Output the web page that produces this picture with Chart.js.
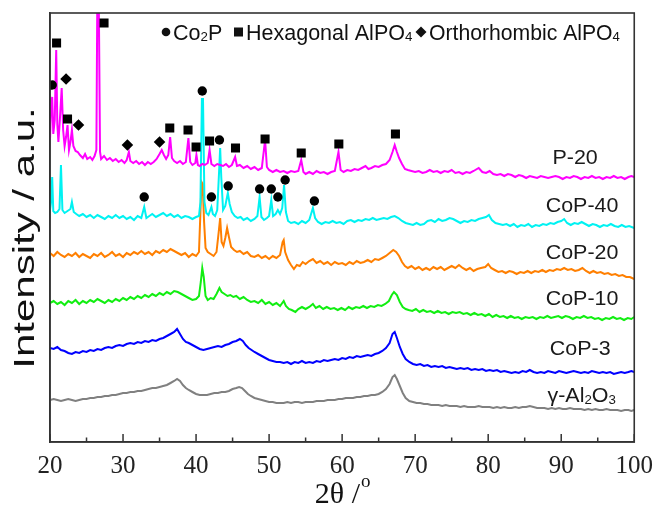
<!DOCTYPE html>
<html>
<head>
<meta charset="utf-8">
<script src="https://cdn.jsdelivr.net/npm/chart.js@4.4.1/dist/chart.umd.min.js"></script>
<style>
html,body{margin:0;padding:0;background:#fff;}
#wrap{width:654px;height:510px;}
</style>
</head>
<body>
<div id="wrap"><canvas id="c" width="654" height="510"></canvas></div>
<script>
// ---- Data (2θ in degrees, intensity in arbitrary offset units) ----
const xMajorTicks = [20,30,40,50,60,70,80,90,100];
const xMinorTicks = [25,35,45,55,65,75,85,95];

const seriesNames = ["P-20","CoP-40","CoP-20","CoP-10","CoP-3","γ-Al2O3"];
const seriesColors = ["#FF00FF","#00F2F2","#FF7F00","#11EE11","#0000FF","#808080"];

const p20 = [[20.0,302],[20.15,337],[20.3,345],[20.45,308],[20.65,322],[20.85,392],[21.0,318],[21.15,300],[21.35,322],[21.6,354],[21.8,312],[22.0,296],[22.2,305],[22.4,317],[22.6,292],[22.8,300],[23.0,312],[23.2,296],[23.5,291],[23.8,290],[24.1,287],[24.5,284],[24.8,288],[25.1,283],[25.5,285],[25.8,282],[26.1,286],[26.35,292],[26.5,470],[26.65,470],[26.85,290],[27.0,283],[27.4,286],[27.8,282],[28.2,284],[28.6,281],[29.0,283],[29.4,280],[29.8,282],[30.2,279],[30.5,282],[30.8,290],[31.0,281],[31.4,279],[31.8,281],[32.2,278],[32.6,280],[33.0,277],[33.4,280],[33.8,278],[34.2,280],[34.6,283],[35.0,288],[35.3,292],[35.6,287],[35.9,283],[36.2,287],[36.45,305],[36.7,284],[37.0,281],[37.4,279],[37.8,281],[38.2,278],[38.6,280],[38.95,304],[39.2,280],[39.5,277],[39.9,279],[40.05,287],[40.25,277],[40.5,276],[40.85,278],[41.2,277],[41.6,279],[41.85,292],[42.1,278],[42.5,276],[42.9,278],[43.3,277],[43.7,276],[44.1,278],[44.5,275],[44.9,277],[45.35,285],[45.6,276],[46.0,277],[46.5,274],[47.0,276],[47.5,273],[48.0,275],[48.5,272],[49.0,274],[49.45,302],[49.7,275],[50.0,272],[50.5,270],[51.0,272],[51.5,270],[52.0,271],[52.5,269],[53.0,271],[53.5,270],[54.0,271],[54.4,282],[54.7,270],[55.0,268],[55.5,270],[56.0,268],[56.5,271],[57.0,269],[57.5,270],[58.0,268],[58.5,270],[59.0,271],[59.5,290],[59.8,272],[60.2,270],[60.7,272],[61.2,271],[61.7,273],[62.2,272],[62.7,274],[63.2,276],[63.6,273],[64.0,274],[64.5,276],[65.0,275],[65.5,277],[66.0,278],[66.5,282],[66.9,290],[67.2,297],[67.5,290],[67.8,284],[68.2,278],[68.6,273],[69.0,272],[69.5,271],[70.0,270],[70.5,271],[71.0,269],[71.5,270],[72.0,272],[72.5,270],[73.0,271],[73.5,269],[74.0,271],[74.5,270],[75.0,272],[75.5,269],[76.0,270],[76.5,268],[77.0,270],[77.5,269],[78.0,271],[78.7,274],[79.2,270],[79.7,269],[80.2,271],[80.7,268],[81.2,267],[81.7,268],[82.2,266],[82.7,268],[83.2,267],[83.7,265],[84.2,267],[84.7,266],[85.2,264],[85.7,266],[86.2,265],[86.7,264],[87.2,266],[87.7,265],[88.2,264],[88.7,265],[89.2,266],[89.7,265],[90.2,263],[90.7,265],[91.2,264],[91.7,266],[92.2,265],[92.7,263],[93.2,265],[93.7,264],[94.2,266],[94.7,264],[95.2,265],[95.7,263],[96.2,265],[96.7,264],[97.2,266],[97.7,264],[98.2,265],[98.7,263],[99.2,265],[99.6,266],[100,265]];

const cop40 = [[20.0,232],[20.15,240],[20.3,265],[20.45,231],[20.7,229],[21.0,230],[21.3,233],[21.5,277],[21.7,232],[22.0,229],[22.4,231],[22.8,233],[23.0,240],[23.25,230],[23.6,228],[24.0,226],[24.5,228],[25.0,225],[25.5,227],[26.0,224],[26.5,227],[27.0,225],[27.5,223],[28.0,226],[28.5,224],[29.0,227],[29.5,224],[30.0,226],[30.5,223],[31.0,225],[31.5,222],[32.0,226],[32.5,224],[32.9,235],[33.2,224],[33.6,226],[34.0,228],[34.5,225],[35.0,227],[35.5,229],[36.0,226],[36.5,228],[37.0,225],[37.5,227],[38.0,224],[38.5,226],[39.0,225],[39.5,223],[40.0,225],[40.4,226],[40.6,240],[40.8,343],[40.95,343],[41.15,240],[41.4,229],[41.7,227],[41.95,232],[42.1,235],[42.3,228],[42.6,226],[42.9,232],[43.15,270],[43.3,294],[43.45,265],[43.7,232],[44.0,236],[44.35,249],[44.6,238],[44.9,230],[45.3,226],[45.7,224],[46.1,225],[46.5,222],[47.0,224],[47.5,221],[48.0,223],[48.4,226],[48.7,245],[48.95,225],[49.3,222],[49.7,224],[50.0,226],[50.3,242],[50.55,226],[50.9,228],[51.2,232],[51.5,228],[51.8,234],[52.05,257],[52.3,230],[52.6,221],[53.0,219],[53.5,220],[54.0,218],[54.5,221],[55.0,219],[55.5,222],[56.0,234],[56.3,224],[56.7,220],[57.2,218],[57.7,220],[58.2,219],[58.7,221],[59.2,219],[59.7,220],[60.2,218],[60.7,221],[61.2,222],[61.7,220],[62.2,222],[62.7,221],[63.2,223],[63.7,222],[64.2,224],[64.7,222],[65.2,223],[65.7,224],[66.2,223],[66.7,225],[67.2,226],[67.7,224],[68.2,221],[68.7,219],[69.2,218],[69.7,217],[70.2,219],[70.7,217],[71.2,218],[71.7,221],[72.2,222],[72.7,220],[73.2,223],[73.7,221],[74.2,222],[74.7,224],[75.2,223],[75.7,221],[76.2,219],[76.7,221],[77.2,220],[77.7,222],[78.2,221],[78.7,223],[79.2,224],[79.7,225],[80.1,227],[80.5,222],[81.0,219],[81.5,218],[82.0,217],[82.5,218],[83.0,216],[83.5,218],[84.0,215],[84.5,217],[85.0,216],[85.5,218],[86.0,215],[86.5,217],[87.0,216],[87.5,218],[88.0,217],[88.5,219],[89.0,218],[89.5,220],[90.0,221],[90.4,223],[90.8,219],[91.3,217],[91.8,219],[92.3,218],[92.8,220],[93.3,218],[93.8,216],[94.3,218],[94.8,217],[95.3,215],[95.8,217],[96.3,216],[96.8,218],[97.3,216],[97.8,215],[98.3,217],[98.8,215],[99.3,216],[100,214]];

const cop20 = [[20.0,189],[20.5,186],[21.0,190],[21.5,187],[22.0,185],[22.5,188],[23.0,186],[23.5,189],[24.0,185],[24.5,188],[25.0,186],[25.5,184],[26.0,188],[26.5,186],[27.0,189],[27.5,185],[28.0,187],[28.5,190],[29.0,186],[29.5,188],[30.0,185],[30.5,189],[31.0,187],[31.5,190],[32.0,188],[32.5,191],[33.0,188],[33.5,190],[34.0,187],[34.5,191],[35.0,189],[35.5,192],[36.0,190],[36.5,193],[37.0,191],[37.5,189],[38.0,187],[38.5,189],[39.0,185],[39.5,188],[40.0,186],[40.4,190],[40.6,230],[40.75,260],[40.9,258],[41.1,220],[41.3,194],[41.6,190],[42.0,188],[42.4,186],[42.8,190],[43.1,210],[43.3,224],[43.5,200],[43.75,196],[44.0,204],[44.25,214],[44.5,205],[44.8,195],[45.2,192],[45.6,190],[46.0,191],[46.5,188],[47.0,190],[47.5,186],[48.0,185],[48.5,187],[49.0,184],[49.5,186],[50.0,183],[50.5,186],[51.0,184],[51.5,187],[51.85,200],[52.0,202],[52.2,190],[52.6,182],[53.0,177],[53.4,173],[53.8,177],[54.2,176],[54.6,180],[55.0,178],[55.5,181],[56.0,183],[56.5,179],[57.0,181],[57.5,178],[58.0,180],[58.5,177],[59.0,180],[59.5,178],[60.0,179],[60.5,177],[61.0,180],[61.5,178],[62.0,181],[62.5,179],[63.0,180],[63.5,182],[64.0,180],[64.5,183],[65.0,182],[65.5,184],[66.0,186],[66.5,189],[67.0,192],[67.4,190],[67.8,186],[68.2,180],[68.6,176],[69.0,174],[69.5,176],[70.0,173],[70.5,175],[71.0,172],[71.5,174],[72.0,172],[72.5,175],[73.0,173],[73.5,175],[74.0,172],[74.5,174],[75.0,176],[75.5,174],[76.0,177],[76.5,174],[77.0,172],[77.5,174],[78.0,171],[78.5,173],[79.0,174],[79.6,175],[80.0,178],[80.4,174],[80.9,172],[81.4,170],[81.9,171],[82.4,169],[82.9,171],[83.4,170],[83.9,168],[84.4,170],[84.9,169],[85.4,171],[85.9,169],[86.4,171],[86.9,170],[87.4,172],[87.9,170],[88.4,172],[88.9,171],[89.4,173],[89.9,172],[90.4,174],[90.9,172],[91.4,173],[91.9,171],[92.4,172],[92.9,174],[93.4,171],[93.9,169],[94.4,171],[94.9,169],[95.4,170],[95.9,168],[96.4,169],[96.9,167],[97.4,168],[97.9,166],[98.4,167],[98.9,165],[99.4,165],[100,163]];

const cop10 = [[20.0,139],[20.5,141],[21.0,138],[21.5,140],[22.0,137],[22.5,141],[23.0,139],[23.5,142],[24.0,138],[24.5,141],[25.0,139],[25.5,142],[26.0,140],[26.5,143],[27.0,141],[27.5,139],[28.0,142],[28.5,140],[29.0,143],[29.5,141],[30.0,144],[30.5,142],[31.0,145],[31.5,143],[32.0,146],[32.5,144],[33.0,147],[33.5,145],[34.0,148],[34.5,146],[35.0,149],[35.5,147],[36.0,150],[36.5,148],[37.0,151],[37.5,150],[38.0,148],[38.5,146],[39.0,144],[39.5,142],[40.0,143],[40.4,146],[40.65,160],[40.85,174],[41.05,165],[41.3,146],[41.6,142],[42.0,144],[42.4,143],[42.8,148],[43.2,154],[43.5,150],[43.9,148],[44.3,146],[44.7,147],[45.1,145],[45.5,146],[46.0,143],[46.5,145],[47.0,142],[47.5,140],[48.0,141],[48.5,139],[49.0,142],[49.5,138],[50.0,140],[50.5,137],[51.0,139],[51.5,136],[52.0,141],[52.3,136],[52.7,133],[53.1,132],[53.6,130],[54.0,133],[54.5,135],[55.0,133],[55.5,135],[56.0,138],[56.4,134],[56.9,136],[57.4,133],[57.9,135],[58.4,133],[58.9,134],[59.4,132],[59.9,134],[60.4,132],[60.9,135],[61.4,133],[61.9,135],[62.4,134],[62.9,136],[63.4,134],[63.9,136],[64.4,135],[64.9,137],[65.4,136],[65.9,138],[66.4,141],[66.8,147],[67.1,150],[67.5,147],[67.9,140],[68.3,135],[68.7,133],[69.1,132],[69.6,131],[70.1,133],[70.6,130],[71.1,132],[71.6,130],[72.1,131],[72.6,129],[73.1,131],[73.6,129],[74.1,130],[74.6,128],[75.1,130],[75.6,129],[76.1,130],[76.6,128],[77.1,129],[77.6,127],[78.1,129],[78.6,127],[79.1,128],[79.6,126],[80.1,128],[80.6,125],[81.1,127],[81.6,125],[82.1,126],[82.6,124],[83.1,126],[83.6,124],[84.1,125],[84.6,123],[85.1,125],[85.6,124],[86.1,125],[86.6,123],[87.1,125],[87.6,124],[88.1,126],[88.6,124],[89.1,125],[89.6,126],[90.1,124],[90.6,126],[91.1,125],[91.6,123],[92.1,125],[92.6,124],[93.1,126],[93.6,124],[94.1,125],[94.6,123],[95.1,124],[95.6,122],[96.1,124],[96.6,123],[97.1,125],[97.6,123],[98.1,124],[98.6,122],[99.1,124],[99.6,123],[100,125]];

const cop3 = [[20.0,94],[20.5,93],[21.0,95],[21.5,92],[22.0,91],[22.5,89],[23.0,88],[23.5,90],[24.0,89],[24.5,91],[25.0,90],[25.5,92],[26.0,91],[26.5,93],[27.0,92],[27.5,94],[28.0,95],[28.5,94],[29.0,96],[29.5,97],[30.0,96],[30.5,98],[31.0,99],[31.5,98],[32.0,100],[32.5,99],[33.0,101],[33.5,100],[34.0,102],[34.5,101],[35.0,103],[35.5,104],[36.0,106],[36.5,108],[37.0,110],[37.4,113],[37.8,108],[38.2,103],[38.6,100],[39.0,99],[39.5,97],[40.0,95],[40.5,93],[41.0,92],[41.5,93],[42.0,94],[42.5,95],[43.0,96],[43.5,95],[44.0,97],[44.5,98],[45.0,100],[45.5,101],[46.0,103],[46.4,101],[46.8,97],[47.2,94],[47.6,92],[48.0,90],[48.5,88],[49.0,86],[49.5,84],[50.0,82],[50.5,81],[51.0,80],[51.5,80],[52.0,79],[52.5,80],[53.0,78],[53.5,80],[54.0,79],[54.5,81],[55.0,79],[55.5,80],[56.0,79],[56.5,81],[57.0,80],[57.5,82],[58.0,81],[58.5,82],[59.0,83],[59.5,82],[60.0,84],[60.5,83],[61.0,85],[61.5,84],[62.0,86],[62.5,85],[63.0,86],[63.5,87],[64.0,86],[64.5,88],[65.0,89],[65.5,91],[66.0,94],[66.5,99],[66.9,108],[67.2,110],[67.5,104],[67.9,95],[68.3,88],[68.7,83],[69.2,80],[69.7,78],[70.2,77],[70.7,78],[71.2,76],[71.7,77],[72.2,75],[72.7,76],[73.2,75],[73.7,76],[74.2,74],[74.7,75],[75.2,74],[75.7,73],[76.2,74],[76.7,73],[77.2,74],[77.7,72],[78.2,73],[78.7,72],[79.2,73],[79.7,71],[80.2,72],[80.7,71],[81.2,72],[81.7,70],[82.2,71],[82.7,70],[83.2,69],[83.7,70],[84.2,69],[84.7,71],[85.2,70],[85.7,72],[86.2,70],[86.7,69],[87.2,70],[87.7,69],[88.2,71],[88.7,70],[89.2,69],[89.7,71],[90.2,70],[90.7,69],[91.2,70],[91.7,71],[92.2,70],[92.7,69],[93.2,70],[93.7,69],[94.2,71],[94.7,70],[95.2,69],[95.7,70],[96.2,69],[96.7,70],[97.2,68],[97.7,69],[98.2,70],[98.7,69],[99.2,70],[99.6,71],[100,70]];

const al2o3 = [[20.0,42],[20.5,43],[21.0,42],[21.5,41],[22.0,42],[22.5,43],[23.0,42],[23.5,41],[24.0,42],[24.5,43],[25.0,43],[25.5,44],[26.0,44],[26.5,45],[27.0,45],[27.5,46],[28.0,46],[28.5,47],[29.0,47],[29.5,48],[30.0,49],[30.5,49],[31.0,50],[31.5,50],[32.0,51],[32.5,51],[33.0,52],[33.5,53],[34.0,54],[34.5,54],[35.0,55],[35.5,56],[36.0,57],[36.5,59],[37.0,61],[37.4,63],[37.8,61],[38.2,57],[38.6,54],[39.0,52],[39.5,50],[40.0,48],[40.5,47],[41.0,47],[41.5,47],[42.0,48],[42.5,49],[43.0,49],[43.5,50],[44.0,50],[44.5,51],[45.0,53],[45.5,54],[45.9,55],[46.3,54],[46.7,51],[47.1,48],[47.5,46],[48.0,44],[48.5,43],[49.0,42],[49.5,41],[50.0,40],[50.5,40],[51.0,39],[51.5,39],[52.0,39],[52.5,40],[53.0,39],[53.5,40],[54.0,40],[54.5,39],[55.0,40],[55.5,40],[56.0,40],[56.5,41],[57.0,41],[57.5,41],[58.0,42],[58.5,42],[59.0,42],[59.5,43],[60.0,43],[60.5,44],[61.0,44],[61.5,44],[62.0,45],[62.5,45],[63.0,46],[63.5,46],[64.0,47],[64.5,47],[65.0,48],[65.5,50],[66.0,53],[66.5,58],[66.9,65],[67.2,67],[67.5,63],[67.9,56],[68.3,49],[68.7,44],[69.2,41],[69.7,40],[70.2,39],[70.7,39],[71.2,38],[71.7,38],[72.2,37],[72.7,37],[73.2,37],[73.7,36],[74.2,37],[74.7,36],[75.2,36],[75.7,36],[76.2,35],[76.7,36],[77.2,35],[77.7,35],[78.2,35],[78.7,36],[79.2,35],[79.7,35],[80.2,35],[80.7,34],[81.2,35],[81.7,34],[82.2,35],[82.7,34],[83.2,34],[83.7,35],[84.2,34],[84.7,35],[85.2,35],[85.7,36],[86.2,35],[86.7,34],[87.2,34],[87.7,34],[88.2,33],[88.7,34],[89.2,33],[89.7,34],[90.2,33],[90.7,33],[91.2,34],[91.7,33],[92.2,33],[92.7,33],[93.2,32],[93.7,33],[94.2,32],[94.7,33],[95.2,32],[95.7,32],[96.2,33],[96.7,32],[97.2,32],[97.7,32],[98.2,31],[98.7,32],[99.2,32],[99.6,31],[100,32]];

// phase markers
const co2pMarks = [[20.3,357],[40.85,351],[43.2,302],[32.9,245],[42.1,245],[44.4,256],[48.7,253],[50.3,253],[51.2,245],[52.2,262],[56.2,241]];
const hexMarks = [[20.9,399],[22.4,323],[27.4,419],[36.4,314],[38.9,312],[40.0,295],[41.85,301],[45.4,294],[49.45,303],[54.4,289],[59.55,298],[67.3,308]];
const orthoMarks = [[22.2,363],[23.9,317],[30.6,297],[35.0,300]];

// label anchors (x in degrees, y in intensity units)
const labelPos = [[91.9,285],[92.85,237],[92.85,190],[92.85,144],[92.6,94],[92.8,47]];

const Y_MAX = 429;
const SANS = "'Liberation Sans', Arial, sans-serif";
const SERIF = "'Liberation Serif', 'Times New Roman', serif";

function richWidth(ctx, parts, size){
  let w = 0;
  for (const p of parts){
    ctx.font = (p.sub ? size*0.62 : size) + "px " + SANS;
    w += ctx.measureText(p.t).width;
  }
  return w;
}
function drawRich(ctx, parts, x, y, size, align, sx){
  ctx.save();
  ctx.translate(x, y);
  ctx.scale(sx||1, 1);
  const w = richWidth(ctx, parts, size);
  let cx = align === 'center' ? -w/2 : (align === 'right' ? -w : 0);
  ctx.textBaseline = 'alphabetic';
  for (const p of parts){
    ctx.font = (p.sub ? size*0.62 : size) + "px " + SANS;
    const dy = p.sub ? size*0.08 : 0;
    ctx.fillText(p.t, cx, size*0.36 + dy);
    cx += ctx.measureText(p.t).width;
  }
  ctx.restore();
}

const decor = {
  id: 'decor',
  afterDraw(chart){
    const ctx = chart.ctx, a = chart.chartArea;
    const xs = chart.scales.x, ys = chart.scales.y;
    ctx.save();
    // frame
    ctx.strokeStyle = '#333'; ctx.lineWidth = 1.6;
    ctx.strokeRect(a.left, a.top, a.right - a.left, a.bottom - a.top);
    // inward ticks
    ctx.lineWidth = 1.5;
    ctx.beginPath();
    for (const v of xMajorTicks){ const px = xs.getPixelForValue(v); ctx.moveTo(px, a.bottom); ctx.lineTo(px, a.bottom - 8); }
    for (const v of xMinorTicks){ const px = xs.getPixelForValue(v); ctx.moveTo(px, a.bottom); ctx.lineTo(px, a.bottom - 4.5); }
    ctx.stroke();
    // x title
    ctx.fillStyle = '#111';
    ctx.textBaseline = 'alphabetic';
    ctx.font = '30px ' + SERIF;
    const t1 = '2θ /';
    const w1 = ctx.measureText(t1).width;
    ctx.font = '19px ' + SERIF;
    const w2 = ctx.measureText('o').width;
    const cx = (a.left + a.right)/2 - (w1 + w2)/2;
    ctx.font = '30px ' + SERIF;
    ctx.fillText(t1, cx, 503);
    ctx.font = '19px ' + SERIF;
    ctx.fillText('o', cx + w1 + 1, 487);
    // y title
    ctx.save();
    ctx.translate(26, 238);
    ctx.rotate(-Math.PI/2);
    ctx.scale(1.4, 1);
    ctx.font = '30px ' + SANS;
    ctx.textAlign = 'center';
    ctx.textBaseline = 'middle';
    ctx.fillText('Intensity / a.u.', 0, 0);
    ctx.restore();
    // series labels
    ctx.fillStyle = '#1a1a1a';
    const labParts = [
      [{t:'P-20'}],[{t:'CoP-40'}],[{t:'CoP-20'}],[{t:'CoP-10'}],[{t:'CoP-3'}],
      [{t:'γ-Al'},{t:'2',sub:true},{t:'O'},{t:'3',sub:true}]
    ];
    labelPos.forEach((p,i)=>{
      drawRich(ctx, labParts[i], xs.getPixelForValue(p[0]), ys.getPixelForValue(p[1]), 19.5, 'center', 1.1);
    });
    // legend
    ctx.fillStyle = '#111';
    const ly = 32;
    ctx.beginPath(); ctx.arc(166, ly, 4.3, 0, Math.PI*2); ctx.fill();
    drawRich(ctx, [{t:'Co'},{t:'2',sub:true},{t:'P'}], 173, ly, 21.5, 'left', 1.0);
    ctx.fillRect(234, ly-4.5, 9, 9);
    drawRich(ctx, [{t:'Hexagonal AlPO'},{t:'4',sub:true}], 246, ly, 21.5, 'left', 1.0);
    ctx.beginPath(); ctx.moveTo(421, ly-5.5); ctx.lineTo(426.5, ly); ctx.lineTo(421, ly+5.5); ctx.lineTo(415.5, ly); ctx.closePath(); ctx.fill();
    drawRich(ctx, [{t:'Orthorhombic AlPO'},{t:'4',sub:true}], 429, ly, 21.5, 'left', 0.985);
    ctx.restore();
  }
};

const lineSets = [p20, cop40, cop20, cop10, cop3, al2o3].map((d,i)=>({
  type:'line', label: seriesNames[i], data: d, borderColor: seriesColors[i],
  borderWidth: 2, pointRadius: 0, tension: 0, fill: false
}));

const markerSets = [
  {type:'scatter', label:'Co2P', data: co2pMarks, pointStyle:'circle', pointRadius:4.7, backgroundColor:'#000', borderColor:'#000', borderWidth:0},
  {type:'scatter', label:'Hexagonal AlPO4', data: hexMarks, pointStyle:'rect', pointRadius:6.4, backgroundColor:'#000', borderColor:'#000', borderWidth:0},
  {type:'scatter', label:'Orthorhombic AlPO4', data: orthoMarks, pointStyle:'rectRot', pointRadius:5.8, backgroundColor:'#000', borderColor:'#000', borderWidth:0}
];

new Chart(document.getElementById('c'), {
  data: { datasets: markerSets.concat(lineSets) },
  options: {
    responsive: false,
    animation: false,
    events: [],
    layout: { padding: { top: 13, right: 17, left: 0, bottom: 0 } },
    plugins: { legend: { display: false }, tooltip: { enabled: false } },
    scales: {
      x: {
        type: 'linear', min: 20, max: 100,
        grid: { display: false },
        border: { display: true, color: '#333', width: 1.6 },
        ticks: { stepSize: 10, color: '#222', padding: 1, font: { family: SERIF, size: 25 } },
        afterFit(s){ s.height = 68; }
      },
      y: {
        type: 'linear', min: 0, max: Y_MAX,
        grid: { display: false },
        border: { display: true, color: '#333', width: 1.6 },
        ticks: { display: false },
        afterFit(s){ s.width = 50; }
      }
    }
  },
  plugins: [decor]
});
</script>
</body>
</html>
